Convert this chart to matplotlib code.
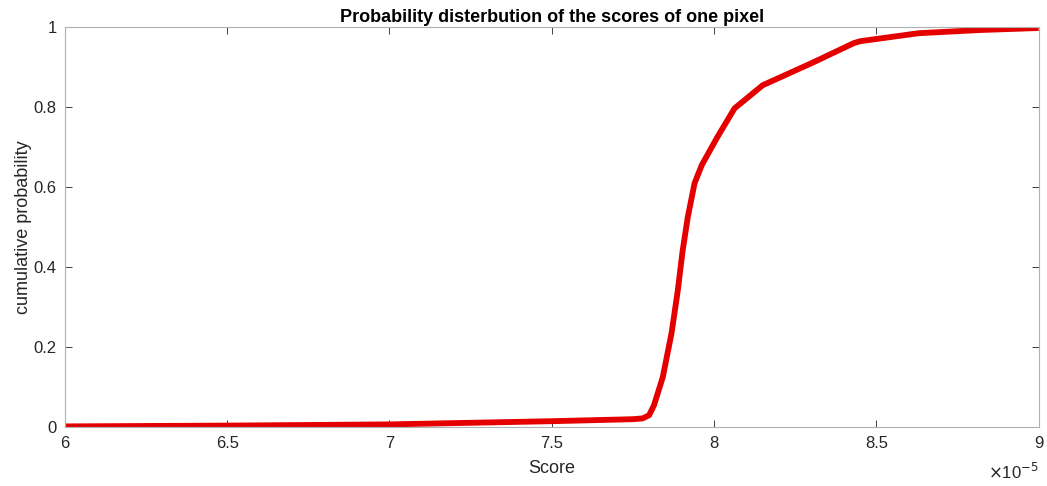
import numpy as np
import matplotlib
matplotlib.use('Agg')
import matplotlib.pyplot as plt

plt.rcParams['font.family'] = ['Liberation Sans', 'DejaVu Sans']

# score values (x 1e-5) and cumulative probability
score = [6.0, 6.5, 7.0, 7.5, 7.75, 7.78, 7.80, 7.815, 7.842, 7.869, 7.888, 7.903,
         7.919, 7.94, 7.962, 7.986, 8.01, 8.063, 8.15, 8.30, 8.43, 8.45, 8.63, 8.82, 9.0]
cdf = [0.002, 0.004, 0.007, 0.015, 0.02, 0.022, 0.03, 0.055, 0.125, 0.235, 0.34, 0.44,
       0.525, 0.61, 0.655, 0.69, 0.725, 0.797, 0.855, 0.91, 0.96, 0.965, 0.985, 0.993, 0.998]

xticks = [6, 6.5, 7, 7.5, 8, 8.5, 9]
yticks = [0, 0.2, 0.4, 0.6, 0.8, 1]
yticklabels = ['0', '0.2', '0.4', '0.6', '0.8', '1']

fig = plt.figure(figsize=(10.47, 4.86), dpi=100)
ax = fig.add_axes([0.062, 0.121, 0.93, 0.823])
ax.plot(score, cdf, color='#e50000', linewidth=4.2, solid_capstyle='butt',
        solid_joinstyle='round')

ax.set_xlim(6, 9)
ax.set_ylim(0, 1)
ax.set_xticks(xticks)
ax.set_xticklabels([('%g' % t) for t in xticks])
ax.set_yticks(yticks)
ax.set_yticklabels(yticklabels)

for s in ax.spines.values():
    s.set_color('#b0b0b0')
    s.set_linewidth(0.8)
ax.tick_params(direction='in', top=True, right=True, length=5, width=0.7,
               color='#404040', labelsize=12, labelcolor='#262626', pad=6)

ax.set_xlabel('Score', fontsize=13, color='#262626', labelpad=7)
ax.set_ylabel('cumulative probability', fontsize=13, color='#262626', labelpad=1)
ax.set_title('Probability disterbution of the scores of one pixel', fontsize=13,
             fontweight='bold', color='black', pad=4)
ax.text(1.0, -0.113, r'$\times$10$^{-5}$', transform=ax.transAxes, ha='right',
        va='center', fontsize=12, color='#262626')

fig.savefig('out.png', dpi=100)
